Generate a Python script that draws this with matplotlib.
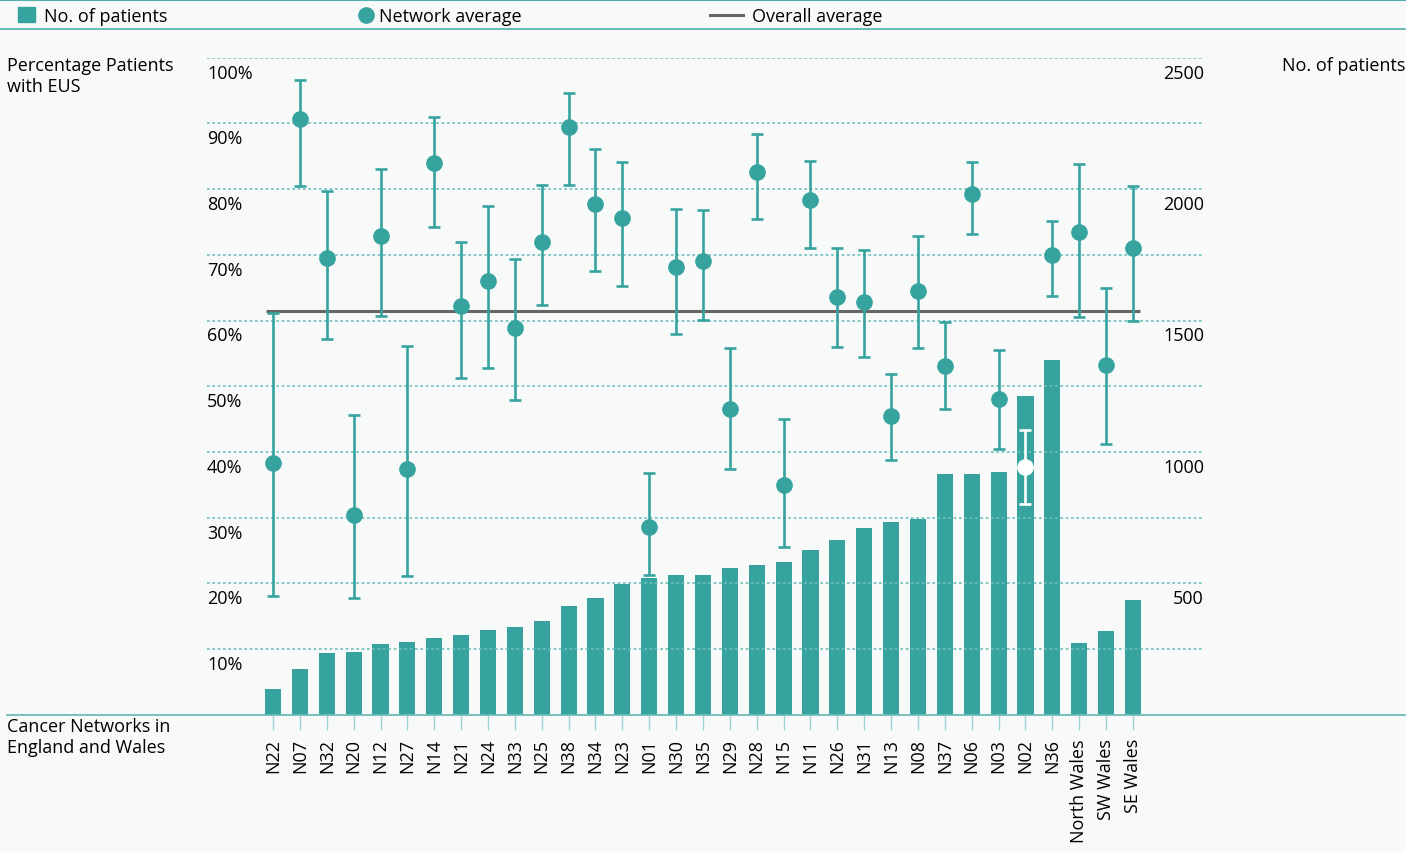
import matplotlib
matplotlib.use("Agg")
import matplotlib.pyplot as plt
import matplotlib.transforms as mtransforms
from matplotlib.lines import Line2D
from matplotlib.patches import Rectangle

plt.rcParams['font.family'] = ['Open Sans', 'DejaVu Sans']

# data
networks = ['N22', 'N07', 'N32', 'N20', 'N12', 'N27', 'N14', 'N21', 'N24', 'N33', 'N25',
            'N38', 'N34', 'N23', 'N01', 'N30', 'N35', 'N29', 'N28', 'N15', 'N11', 'N26',
            'N31', 'N13', 'N08', 'N37', 'N06', 'N03', 'N02', 'N36',
            'North Wales', 'SW Wales', 'SE Wales']
patients = [98, 174, 235, 239, 269, 277, 292, 303, 322, 334, 357,
            414, 444, 498, 520, 531, 531, 558, 570, 581, 627, 665,
            711, 733, 745, 916, 916, 923, 1213, 1350,
            273, 318, 436]
pct_avg = [38.3, 90.6, 69.5, 30.4, 72.8, 37.4, 83.9, 62.2, 66.0, 58.8, 72.0,
           89.4, 77.7, 75.6, 28.6, 68.1, 69.0, 46.6, 82.6, 35.0, 78.3, 63.6,
           62.8, 45.4, 64.5, 53.1, 79.2, 48.1, 37.7, 69.9,
           73.5, 53.3, 71.1]
pct_low = [18.1, 80.4, 57.2, 17.7, 60.7, 21.1, 74.2, 51.3, 52.8, 47.9, 62.3,
           80.7, 67.5, 65.3, 21.2, 58.0, 60.1, 37.4, 75.4, 25.6, 71.0, 55.9,
           54.4, 38.8, 55.8, 46.5, 73.1, 40.4, 32.1, 63.8,
           60.6, 41.2, 59.9]
pct_high = [61.1, 96.6, 79.7, 45.6, 83.1, 56.1, 90.9, 72.0, 77.4, 69.3, 80.6,
            94.7, 86.1, 84.2, 36.8, 76.9, 76.8, 55.8, 88.4, 45.0, 84.3, 71.1,
            70.7, 51.8, 72.8, 59.7, 84.2, 55.5, 43.4, 75.1,
            83.8, 64.9, 80.4]
overall_avg = 61.4
pct_ticks = [10, 20, 30, 40, 50, 60, 70, 80, 90, 100]
count_ticks = [500, 1000, 1500, 2000, 2500]
highlight = 'N02'

teal = '#36a39f'
grid_col = '#6cc0bd'
fs = 13
W, H = 1424, 853


def fx(px):
    return px / W


def fy(py):
    return 1 - py / H


fig = plt.figure(figsize=(W / 100, H / 100), dpi=100, facecolor='white')
fig.patches.append(Rectangle((0, 0), fx(1405), 1, transform=fig.transFigure,
                             color='#f8fafa', zorder=-10))

left, right, top, bottom = 207, 1204, 58.7, 715.7
ax = fig.add_axes([fx(left), fy(bottom), fx(right - left), fy(top) - fy(bottom)])
ax.set_facecolor('none')
xs = list(range(len(networks)))
spacing = 26.875
ax.set_xlim(-(273 - left) / spacing, len(networks) - 1 + (right - 1133) / spacing)
ax.set_ylim(0, 2500)
ax.bar(xs, patients, width=0.6, color=teal, zorder=2)
for s in ax.spines.values():
    s.set_visible(False)
ax.set_yticks([])
ax.set_xticks(xs)
ax.set_xticklabels(networks, rotation=90, va='top', ha='center', fontsize=fs)
ax.tick_params(axis='x', direction='out', length=10.8, width=1, color='#9fd3d1', pad=6)

axp = ax.twinx()
axp.set_ylim(0, 100)
axp.set_xlim(ax.get_xlim())
axp.set_yticks([])
for s in axp.spines.values():
    s.set_visible(False)
for v in pct_ticks:
    axp.axhline(v, color=grid_col, lw=1.2, linestyle=(0, (1.6, 1.6)), zorder=0)

axp.hlines(overall_avg, -0.26, 32.25, color='#666666', lw=2.2, zorder=3)
for i, name in enumerate(networks):
    c = 'white' if name == highlight else teal
    axp.errorbar([i], [pct_avg[i]],
                 yerr=[[pct_avg[i] - pct_low[i]], [pct_high[i] - pct_avg[i]]],
                 fmt='o', color=c, ms=11, elinewidth=1.9, capsize=4.5, capthick=1.9,
                 zorder=4)

# tick labels sit just below each gridline
off = mtransforms.ScaledTranslation(0, -15 / 100, fig.dpi_scale_trans)
tl = mtransforms.blended_transform_factory(axp.transAxes, axp.transData) + off
for v in pct_ticks:
    axp.text(0, v, '%d%%' % v, transform=tl, ha='left', va='center', fontsize=fs)
tr = mtransforms.blended_transform_factory(ax.transAxes, ax.transData) + off
for v in count_ticks:
    ax.text(1, v, str(v), transform=tr, ha='right', va='center', fontsize=fs)

# axis titles
fig.text(fx(7), fy(57), 'Percentage Patients\nwith EUS', ha='left', va='top',
         fontsize=fs, linespacing=1.2)
fig.text(fx(1405), fy(57), 'No. of patients', ha='right', va='top', fontsize=fs)
fig.text(fx(7), fy(718), 'Cancer Networks in\nEngland and Wales', ha='left', va='top',
         fontsize=fs, linespacing=1.2)

# frame lines
fig.add_artist(Line2D([fx(7), fx(1405)], [fy(715.5), fy(715.5)], color='#6cbcb9', lw=1.3))
fig.add_artist(Line2D([0, fx(1405)], [fy(0.8), fy(0.8)], color='#4fb0ac', lw=1.5))
fig.add_artist(Line2D([0, fx(1405)], [fy(30), fy(30)], color='#4fb0ac', lw=1.2))

# legend
fig.patches.append(Rectangle((fx(18), fy(23)), fx(17), fy(8) - fy(23),
                             transform=fig.transFigure, color=teal))
fig.text(fx(44), fy(17), 'No. of patients', ha='left', va='center', fontsize=fs)
fig.add_artist(Line2D([fx(366)], [fy(15.5)], marker='o', ms=11, color=teal, lw=0))
fig.text(fx(379), fy(17), 'Network average', ha='left', va='center', fontsize=fs)
fig.add_artist(Line2D([fx(710), fx(743)], [fy(15.5), fy(15.5)], color='#666666', lw=2.2))
fig.text(fx(752), fy(17), 'Overall average', ha='left', va='center', fontsize=fs)

fig.savefig('out.png', dpi=100, facecolor=fig.get_facecolor())
